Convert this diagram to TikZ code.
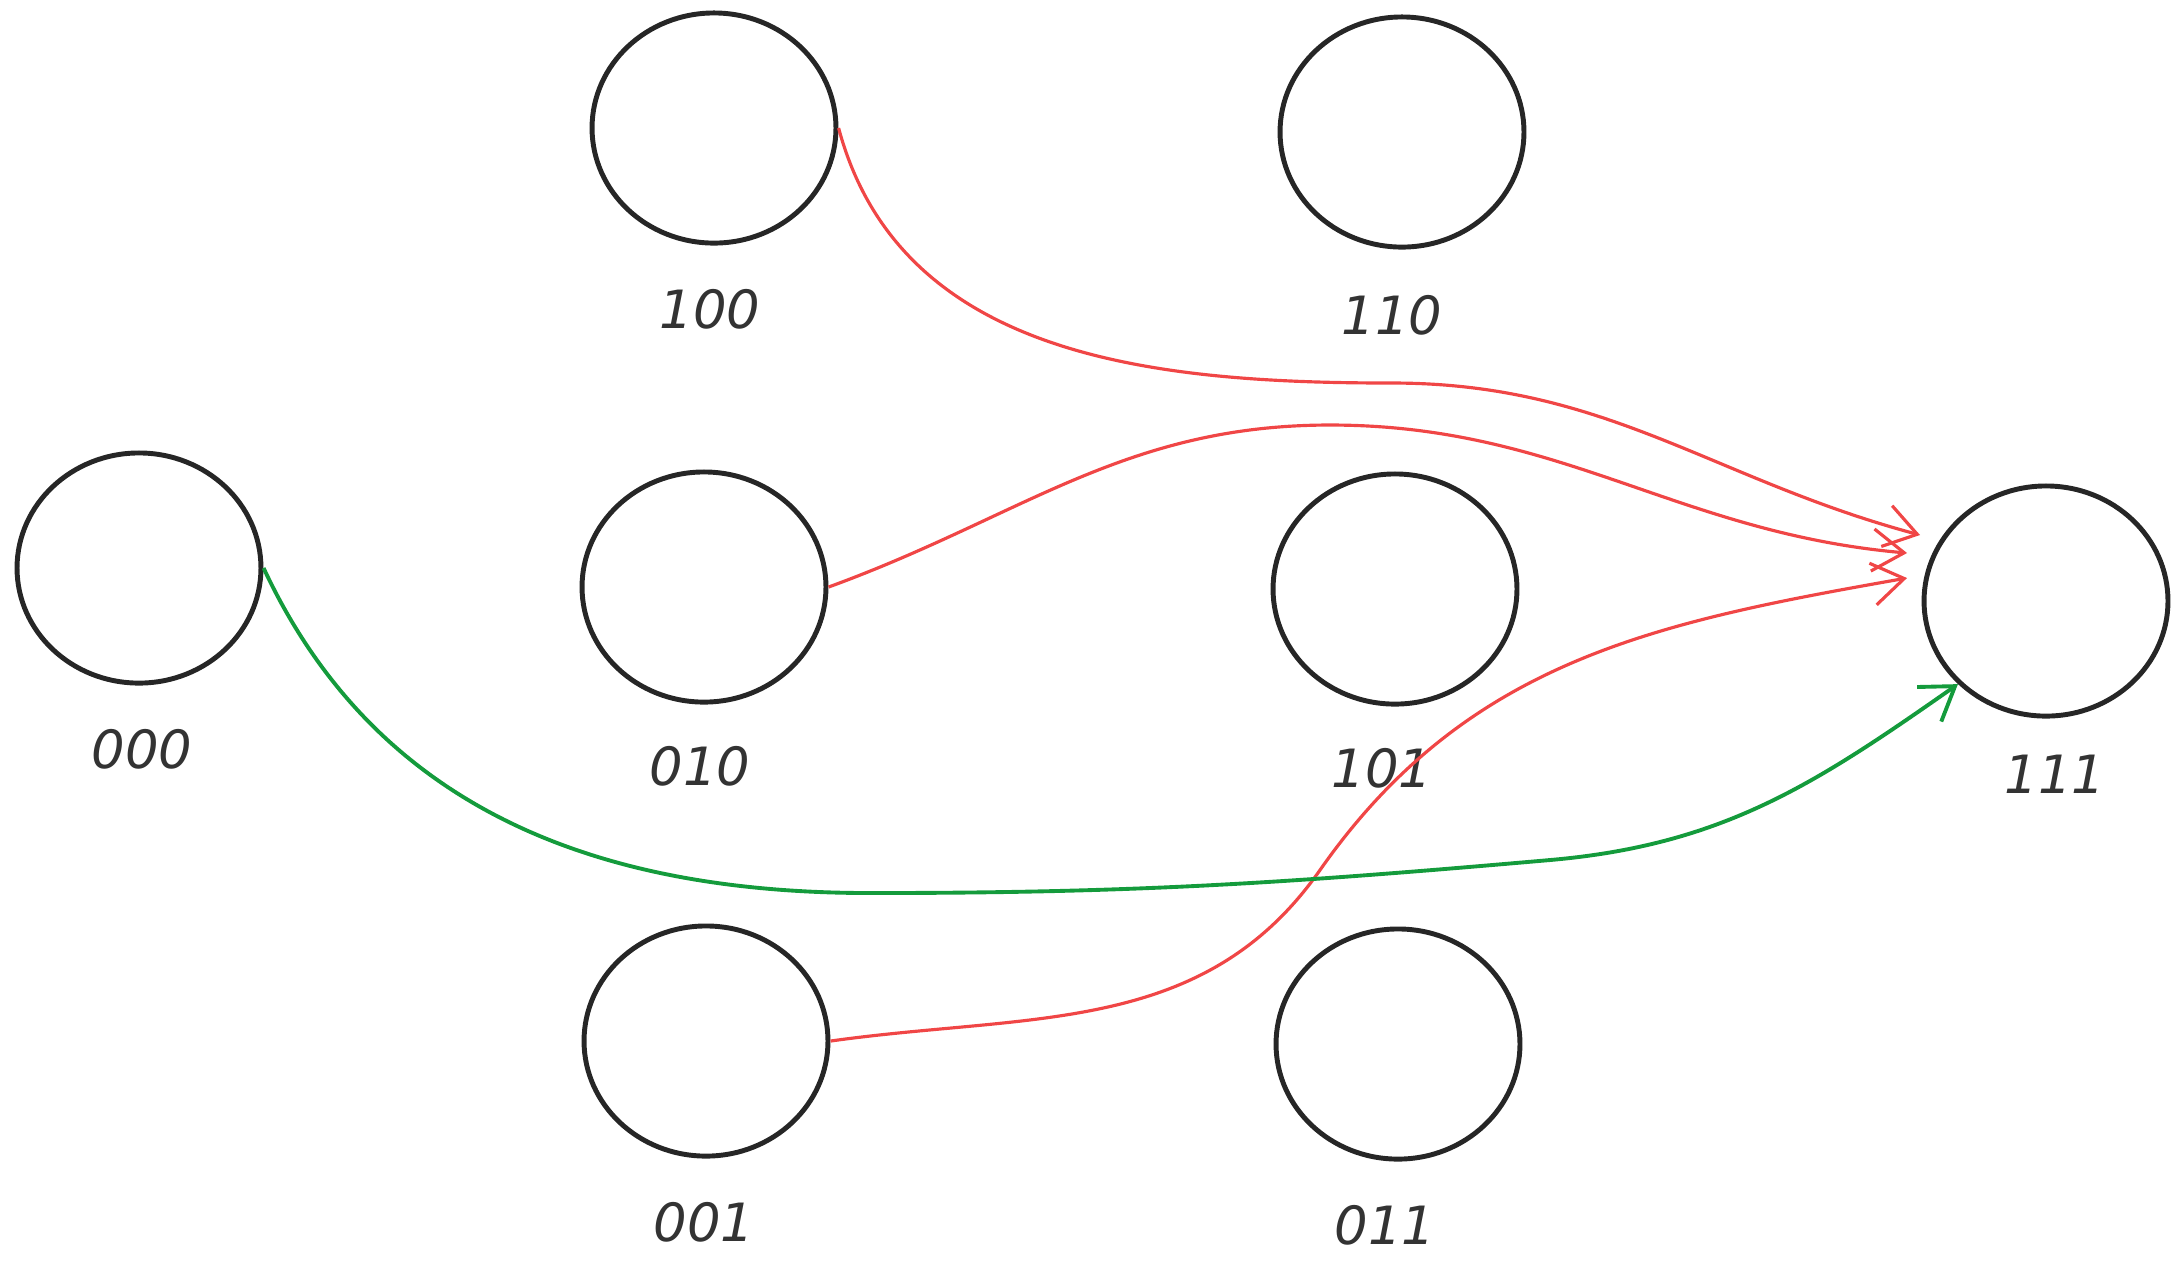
\documentclass[tikz,border=0pt]{standalone}
\usepackage{fontspec}
\setsansfont{DejaVu Sans}
\usetikzlibrary{arrows.meta}
\definecolor{rd}{RGB}{240,70,70}
\definecolor{gr}{RGB}{20,155,60}
\begin{document}
\begin{tikzpicture}[x=0.01cm,y=-0.01cm,
  st/.style={draw=black!85,line width=1.4pt,shape=circle,inner sep=0,minimum size=2.3cm,xscale=1.06},
  lb/.style={font=\sffamily\itshape\fontsize{15}{18}\selectfont,text=black!80},
  ar/.style={line width=0.9pt,-{Straight Barb[length=9pt,width=12pt]}}]
\useasboundingbox (0,0) rectangle (2183,1265);
\node[st] (n100) at (714,128) {};
\node[st] (n110) at (1402,132) {};
\node[st] (n000) at (139,568) {};
\node[st] (n010) at (704,587) {};
\node[st] (n101) at (1395,589) {};
\node[st] (n111) at (2046,601) {};
\node[st] (n001) at (706,1041) {};
\node[st] (n011) at (1398,1044) {};
\node[lb] (l100) at (710,309) {100};
\node[lb] (l110) at (1392,315) {110};
\node[lb] (l000) at (142,749) {000};
\node[lb] (l010) at (700,766) {010};
\node[lb] (l101) at (1382,768) {101};
\node[lb] (l111) at (2055,774) {111};
\node[lb] (l001) at (704,1222) {001};
\node[lb] (l011) at (1385,1225) {011};
\coordinate (e1) at (1920,535);
\coordinate (e2) at (1907,553);
\coordinate (e3) at (1907,578);
\coordinate (m1) at (1392,383);
\coordinate (m2) at (1330,425);
\coordinate (m3) at (1320,870);
\coordinate (g1) at (870,893);
\coordinate (g2) at (1550,860);
\draw[ar,rd] (n100.east) to[out=-75,in=180] (m1) to[out=0,in=165] (e1);
\draw[ar,rd] (n010.east) to[out=20,in=180] (m2) to[out=0,in=175] (e2);
\draw[ar,rd] (n001.east) to[out=8,in=235] (m3) to[out=55,in=190] (e3);
\draw[ar,gr,line width=1.1pt] (n000.east) to[out=-65,in=180] (g1) to[out=0,in=185] (g2) to[out=5,in=215] (n111.south west);
\end{tikzpicture}
\end{document}
